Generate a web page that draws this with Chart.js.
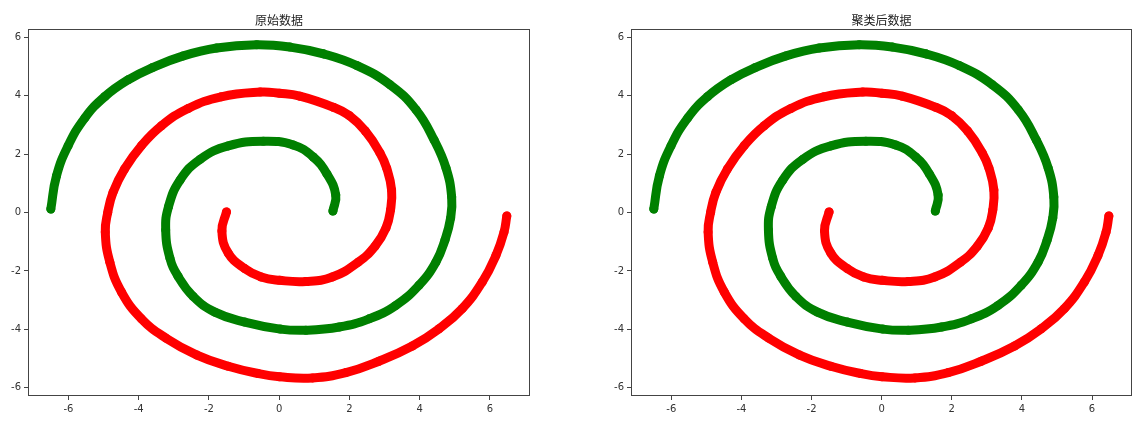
<!DOCTYPE html>
<html lang="zh">

<head>
    <meta charset="UTF-8">
    <title>Spiral</title>
    <script src="https://cdn.jsdelivr.net/npm/chart.js"></script>
    <style>
        html, body {
            margin: 0;
            padding: 0;
            background: #fff;
        }

        .panel {
            position: absolute;
            top: 0;
            width: 571px;
            height: 428px;
        }
    </style>
</head>

<body>
    <div class="panel" style="left:0"><canvas id="chartLeft" width="571" height="428"></canvas></div>
    <div class="panel" style="left:571px"><canvas id="chartRight" width="571" height="428"></canvas></div>

    <script>
        // values, inner end of each spiral first
        const redX = [-1.50, -1.63, -1.45, -0.98, -0.51, 0.01, 0.76, 1.51, 2.25, 2.73, 3.04, 3.17,
            3.20, 3.06, 2.87, 2.45, 1.99, 1.54, 0.59, 0.01, -0.54, -1.65, -2.59, -3.35, -3.92, -4.40,
            -4.73, -4.88, -4.95, -4.82, -4.49, -3.92, -3.22, -2.34, -1.45, -0.60, 0.01, 0.95, 1.90,
            2.84, 3.79, 4.55, 5.21, 5.78, 6.17, 6.40, 6.48];
        const redY = [0.02, -0.63, -1.39, -1.92, -2.21, -2.32, -2.36, -2.21, -1.70, -1.15, -0.53, 0.09,
            0.77, 1.52, 2.04, 2.79, 3.32, 3.60, 3.98, 4.08, 4.12, 3.96, 3.56, 2.97, 2.29, 1.49,
            0.69, 0.00, -0.67, -1.70, -2.72, -3.64, -4.30, -4.88, -5.26, -5.51, -5.62, -5.66, -5.48,
            -5.09, -4.57, -3.98, -3.29, -2.38, -1.47, -0.67, -0.12];

        const greenX = [1.53, 1.61, 1.36, 0.97, 0.40, -0.45, -1.45, -2.25, -2.82, -3.15, -3.23, -3.11,
            -2.88, -2.45, -1.83, -0.98, 0.03, 0.76, 1.71, 2.56, 3.32, 3.98, 4.46, 4.72, 4.88, 4.91,
            4.75, 4.41, 3.90, 3.16, 2.21, 1.26, 0.31, -0.64, -1.78, -2.73, -3.62, -4.30, -4.96,
            -5.53, -6.01, -6.34, -6.50];
        const greenY = [0.05, 0.60, 1.32, 1.90, 2.31, 2.44, 2.28, 1.82, 1.11, 0.20, -0.60, -1.56,
            -2.18, -2.87, -3.41, -3.75, -3.99, -4.03, -3.92, -3.64, -3.18, -2.49, -1.70, -0.94, -0.19, 0.53,
            1.52, 2.48, 3.51, 4.37, 5.03, 5.43, 5.66, 5.74, 5.63, 5.36, 4.95, 4.54, 3.97,
            3.24, 2.28, 1.25, 0.12];

        const xTicks = [-6, -4, -2, 0, 2, 4, 6];
        const yTicks = [-6, -4, -2, 0, 2, 4, 6];
        const titles = ['原始数据', '聚类后数据'];

        function toPoints(xs, ys) {
            return xs.map((x, i) => ({ x: x, y: ys[i] }));
        }

        // full box around the plot + title above it
        const frameAndTitle = {
            id: 'frameAndTitle',
            afterDraw(chart, args, opts) {
                const a = chart.chartArea;
                const ctx = chart.ctx;
                ctx.save();
                ctx.strokeStyle = '#444';
                ctx.lineWidth = 1;
                ctx.strokeRect(a.left + 0.5, a.top + 0.5, a.right - a.left - 1, a.bottom - a.top - 1);
                ctx.fillStyle = '#222';
                ctx.font = '12px "Noto Sans CJK SC", sans-serif';
                ctx.textAlign = 'center';
                ctx.textBaseline = 'middle';
                ctx.fillText(opts.text, (a.left + a.right) / 2, 20);
                ctx.restore();
            }
        };

        function renderSpiral(canvasId, title, padLeft, padRight) {
            const ctx = document.getElementById(canvasId).getContext('2d');
            const series = (pts, color) => ({
                data: pts,
                showLine: true,
                borderColor: color,
                backgroundColor: color,
                borderWidth: 9,
                borderCapStyle: 'round',
                borderJoinStyle: 'round',
                tension: 0.45,
                pointRadius: 4.5,
                pointBorderWidth: 0,
                pointHoverRadius: 4.5
            });
            const tickStyle = {
                color: '#333',
                font: { family: 'DejaVu Sans', size: 10 },
                padding: 3
            };
            new Chart(ctx, {
                type: 'scatter',
                data: {
                    datasets: [
                        series(toPoints(redX, redY), '#ff0000'),
                        series(toPoints(greenX, greenY), '#008000')
                    ]
                },
                plugins: [frameAndTitle],
                options: {
                    responsive: false,
                    animation: false,
                    layout: { padding: { left: padLeft, right: padRight, top: 29, bottom: 0 } },
                    plugins: {
                        legend: { display: false },
                        tooltip: { enabled: false },
                        frameAndTitle: { text: title }
                    },
                    scales: {
                        x: {
                            type: 'linear',
                            min: -7.15,
                            max: 7.14,
                            afterBuildTicks: s => { s.ticks = xTicks.map(v => ({ value: v })); },
                            afterFit: s => { s.height = 32; },
                            grid: { drawOnChartArea: false, tickLength: 4, color: '#444' },
                            border: { display: false },
                            ticks: tickStyle
                        },
                        y: {
                            type: 'linear',
                            min: -6.28,
                            max: 6.28,
                            afterBuildTicks: s => { s.ticks = yTicks.map(v => ({ value: v })); },
                            afterFit: s => { s.width = 28; },
                            grid: { drawOnChartArea: false, tickLength: 4, color: '#444' },
                            border: { display: false },
                            ticks: tickStyle
                        }
                    }
                }
            });
        }

        renderSpiral('chartLeft', titles[0], 0, 41);
        renderSpiral('chartRight', titles[1], 32, 10);
    </script>
</body>

</html>
